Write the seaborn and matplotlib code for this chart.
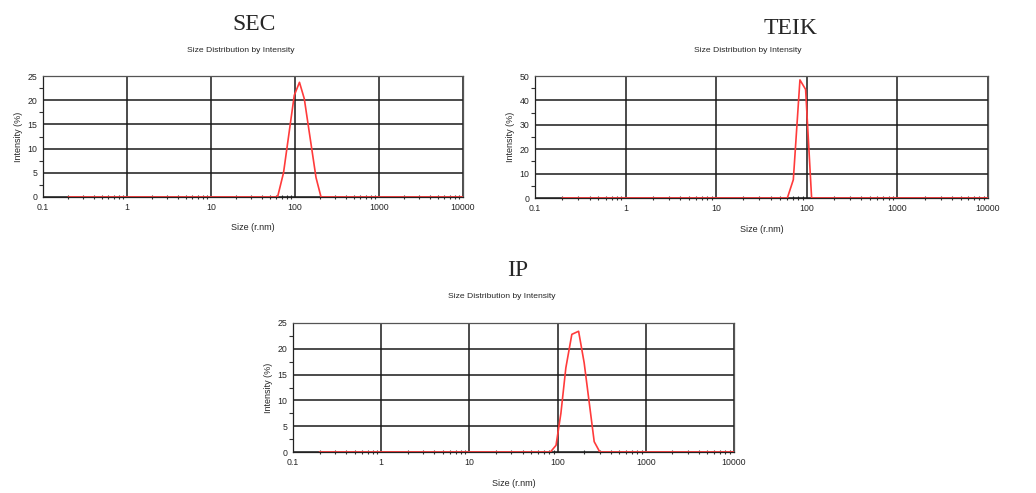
import matplotlib
matplotlib.use('Agg')
import matplotlib.pyplot as plt
import pandas as pd
import seaborn as sns
from matplotlib.ticker import FixedLocator, LogLocator, NullFormatter

# Size (r.nm) and intensity (%)
sec_size = [0.2, 62, 73, 98, 113, 129, 178, 204, 10000]
sec_intensity = [0, 0, 5, 21, 23.7, 20.3, 4, 0, 0]

teik_size = [0.2, 61, 71, 84, 97, 113, 10000]
teik_intensity = [0, 0, 7.5, 48.4, 44.5, 0, 0]

ip_size = [0.2, 83, 96, 109, 124, 145, 173, 200, 260, 301, 10000]
ip_intensity = [0, 0, 1.3, 7.5, 16.3, 22.8, 23.4, 17.3, 2, 0, 0]

x_ticks = [0.1, 1, 10, 100, 1000, 10000]
x_tick_labels = ['0.1', '1', '10', '100', '1000', '10000']

sns.set_style('white')
plt.rcParams['font.family'] = ['Liberation Sans', 'DejaVu Sans']

W, H = 1036, 493
fig = plt.figure(figsize=(W / 100, H / 100), dpi=100)


def px_box(left, top, right, bottom):
    return [left / W, 1 - bottom / H, (right - left) / W, (bottom - top) / H]


def draw_panel(box, size, intensity, ymax, ystep, name, name_xy, sub_xy, xlab_y):
    ax = fig.add_axes(px_box(*box))
    df = pd.DataFrame({'size': size, 'intensity': intensity})
    sns.lineplot(data=df, x='size', y='intensity', ax=ax, color='#ff3b3b', lw=1.2, zorder=3)
    ax.set_xscale('log')
    ax.set_xlim(0.1, 10000)
    ax.set_ylim(0, ymax)
    ax.xaxis.set_major_locator(FixedLocator(x_ticks))
    ax.set_xticklabels(x_tick_labels)
    ax.xaxis.set_minor_locator(LogLocator(base=10, subs=range(2, 10)))
    ax.xaxis.set_minor_formatter(NullFormatter())
    yt = list(range(0, ymax + 1, ystep))
    ax.set_yticks(yt)
    ax.set_yticks([v + ystep / 2 for v in yt[:-1]], minor=True)
    ax.grid(True, which='major', color='#1a1a1a', lw=1.1)
    ax.grid(False, which='minor')
    ax.tick_params(which='major', direction='inout', length=4, width=0.8, labelsize=6.3,
                   color='#333333', pad=2)
    ax.tick_params(axis='x', which='minor', direction='inout', length=3, width=0.8,
                   color='#333333', bottom=True)
    ax.tick_params(axis='y', which='minor', direction='out', length=3, width=0.8,
                   color='#333333', left=True)
    for s in ax.spines.values():
        s.set_color('#555555')
        s.set_linewidth(0.9)
    ax.spines['left'].set_color('#222222')
    ax.spines['bottom'].set_color('#222222')
    ax.set_xlabel('')
    ax.set_ylabel('Intensity (%)', fontsize=6.5, labelpad=3)
    cx = (box[0] + box[2]) / 2
    fig.text(cx / W, 1 - xlab_y / H, 'Size (r.nm)', fontsize=6.5, ha='center', va='center')
    fig.text(name_xy[0] / W, 1 - name_xy[1] / H, name, fontsize=17,
             family='Liberation Serif', ha='center', va='center')
    fig.text(sub_xy[0] / W, 1 - sub_xy[1] / H, 'Size Distribution by Intensity',
             fontsize=6.1, ha='center', va='center')
    return ax


draw_panel((43, 76, 463, 197), sec_size, sec_intensity, 25, 5,
           'SEC', (254, 24), (241, 50), 228)
draw_panel((535, 76, 988, 198), teik_size, teik_intensity, 50, 10,
           'TEIK', (790, 28), (748, 50), 229)
draw_panel((293, 323, 734, 452), ip_size, ip_intensity, 25, 5,
           'IP', (518, 270), (502, 296), 483)

fig.savefig('out.png', dpi=100, facecolor='white')
